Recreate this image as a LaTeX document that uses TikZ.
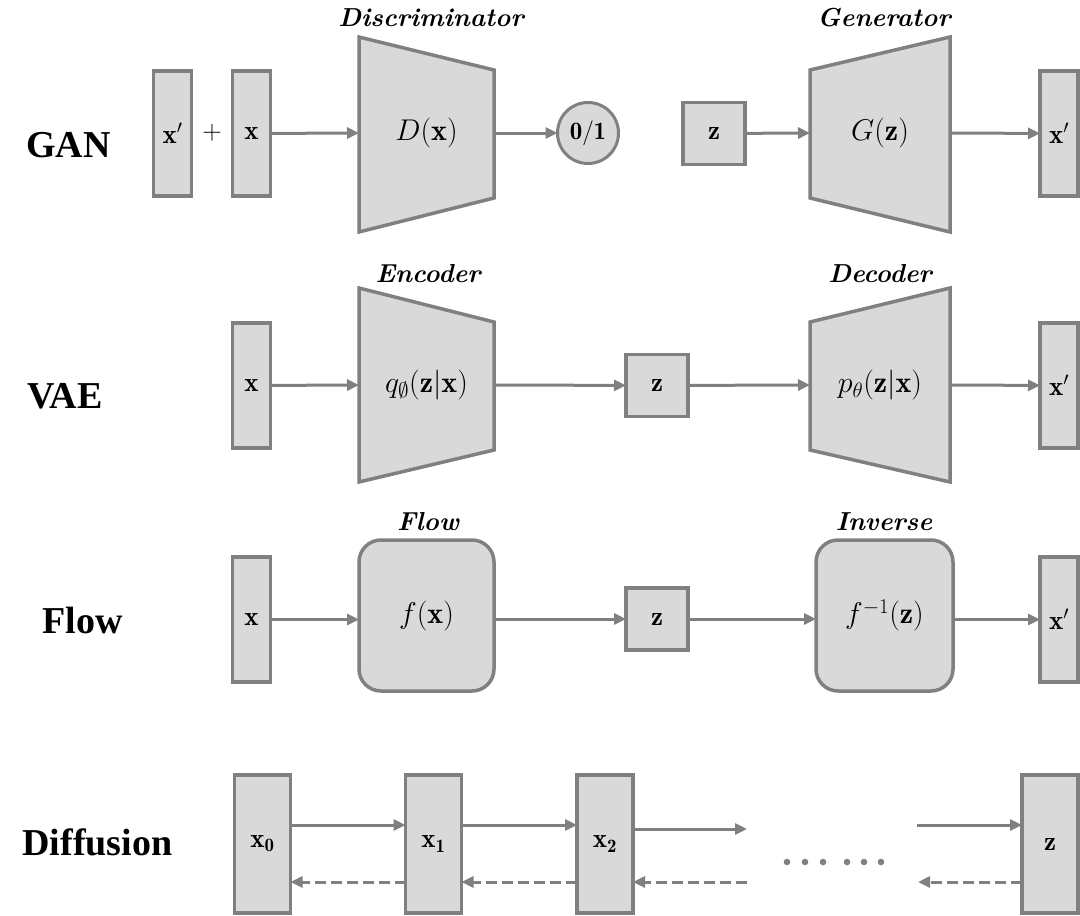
\RequirePackage{fix-cm}
\documentclass[tikz,border=0pt]{standalone}
\usepackage{amsmath,amssymb}
\usepackage{fontspec}
\newfontfamily\rowfont{Liberation Serif}
\usetikzlibrary{arrows.meta,calc}
\definecolor{edgegray}{RGB}{128,128,128}
\definecolor{boxgray}{RGB}{217,217,217}
\begin{document}
\begin{tikzpicture}[x=1pt,y=-1pt,
  blk/.style={draw=edgegray, fill=boxgray, line width=3.5pt, inner sep=0pt, outer sep=0pt, font=\fontsize{27}{31}\selectfont},
  tall/.style={blk, minimum width=38pt, minimum height=125pt},
  sq/.style={blk, minimum width=62pt, minimum height=62pt},
  dbox/.style={blk, minimum width=56pt, minimum height=138pt},
  core/.style={inner sep=0pt, outer sep=0pt, minimum height=60pt, font=\fontsize{30}{34}\selectfont},
  trap/.style={draw=edgegray, fill=boxgray, line width=3.5pt, line join=miter},
  rbox/.style={blk, rounded corners=22pt, minimum width=135pt, minimum height=151pt, font=\fontsize{30}{34}\selectfont},
  captxt/.style={anchor=base, font=\fontsize{26}{30}\selectfont\bfseries\itshape},
  rowlbl/.style={anchor=base, font=\rowfont\fontsize{38}{44}\selectfont\bfseries},
  conn/.style={draw=edgegray, line width=3pt, -{Triangle[length=12pt,width=11pt]}},
  back/.style={conn, dash pattern=on 11pt off 5pt}
]
\useasboundingbox (0,0) rectangle (1080,916);

% ---------- row labels ----------
\node[rowlbl] (lgan) at (68.5,157) {GAN};
\node[rowlbl] (lvae) at (65,408) {VAE};
\node[rowlbl] (lflow) at (82.5,633) {Flow};
\node[rowlbl] (ldiff) at (97.5,855) {Diffusion};

% ---------- GAN ----------
\node[tall] (gxp) at (172.5,133.5) {$\mathbf{x}'$};
\node[font=\fontsize{27}{31}\selectfont] (plus) at (212,133) {$+$};
\node[tall] (gx) at (251.5,133.5) {$\mathbf{x}$};
\draw[trap] (359,37) -- (494,70) -- (494,198) -- (359,232) -- cycle;
\node[core, minimum width=135pt] (D) at (426.5,133) {$D(\mathbf{x})$};
\node[captxt] (capD) at (431,26) {Discriminator};
\node[blk, circle, minimum size=61pt, line width=3pt, font=\fontsize{25}{29}\selectfont] (out) at (588,133) {$\mathbf{0/1}$};
\node[sq] (gz) at (714,133.5) {$\mathbf{z}$};
\draw[trap] (810,70) -- (950,37) -- (950,232) -- (810,198) -- cycle;
\node[core, minimum width=140pt] (G) at (880,133) {$G(\mathbf{z})$};
\node[captxt] (capG) at (884,26) {Generator};
\node[tall] (gxo) at (1059,133.5) {$\mathbf{x}'$};
\draw[conn] (gx) -- (D.west);
\draw[conn] (D.east) -- (out);
\draw[conn] (gz) -- (G.west);
\draw[conn] (G.east) -- (gxo);

% ---------- VAE ----------
\node[tall] (vx) at (251.5,385.5) {$\mathbf{x}$};
\draw[trap] (359,288) -- (494,322) -- (494,450) -- (359,482) -- cycle;
\node[core, minimum width=135pt] (Q) at (426.5,385) {$q_{\emptyset}(\mathbf{z}|\mathbf{x})$};
\node[captxt] (capE) at (428,282) {Encoder};
\node[sq] (vz) at (657,385.5) {$\mathbf{z}$};
\draw[trap] (810,322) -- (950,288) -- (950,482) -- (810,450) -- cycle;
\node[core, minimum width=140pt] (P) at (880,385) {$p_{\theta}(\mathbf{z}|\mathbf{x})$};
\node[captxt] (capDe) at (880,282) {Decoder};
\node[tall] (vxo) at (1059,385.5) {$\mathbf{x}'$};
\draw[conn] (vx) -- (Q.west);
\draw[conn] (Q.east) -- (vz);
\draw[conn] (vz) -- (P.west);
\draw[conn] (P.east) -- (vxo);

% ---------- Flow ----------
\node[tall] (fx) at (251.5,619.5) {$\mathbf{x}$};
\node[rbox] (F) at (426.5,615.5) {$f(\mathbf{x})$};
\node[captxt] (capF) at (428,530) {Flow};
\node[sq] (fz) at (657,619) {$\mathbf{z}$};
\node[rbox, minimum width=137pt] (FI) at (884.5,615.5) {$f^{-1}(\mathbf{z})$};
\node[captxt] (capI) at (884,530) {Inverse};
\node[tall] (fxo) at (1059,619.5) {$\mathbf{x}'$};
\draw[conn] (fx) -- (F.west |- fx);
\draw[conn] (F.east |- fz) -- (fz);
\draw[conn] (fz) -- (FI.west |- fz);
\draw[conn] (FI.east |- fxo) -- (fxo);

% ---------- Diffusion ----------
\node[dbox] (d0) at (262.5,844) {$\mathbf{x_0}$};
\node[dbox] (d1) at (433.5,844) {$\mathbf{x_1}$};
\node[dbox] (d2) at (605,844) {$\mathbf{x_2}$};
\node[dbox] (dz) at (1050,844) {$\mathbf{z}$};
\coordinate (fwdA) at (747,829);
\coordinate (fwdB) at (917,825);
\coordinate (bckA) at (747,882);
\coordinate (bckB) at (918,882);
\draw[conn] ([yshift=19pt]d0.east) -- ([yshift=19pt]d1.west);
\draw[conn] ([yshift=19pt]d1.east) -- ([yshift=19pt]d2.west);
\draw[conn] ([yshift=15pt]d2.east) -- (fwdA);
\draw[conn] (fwdB) -- ([yshift=19pt]dz.west);
\draw[back] ([yshift=-38pt]d1.west) -- ([yshift=-38pt]d0.east);
\draw[back] ([yshift=-38pt]d2.west) -- ([yshift=-38pt]d1.east);
\draw[back] (bckA) -- ([yshift=-38pt]d2.east);
\draw[back] ([yshift=-38pt]dz.west) -- (bckB);
\foreach \xx in {787,805,823,847,864,881} \fill[edgegray] (\xx,862) circle (3.3pt);
\end{tikzpicture}
\end{document}
